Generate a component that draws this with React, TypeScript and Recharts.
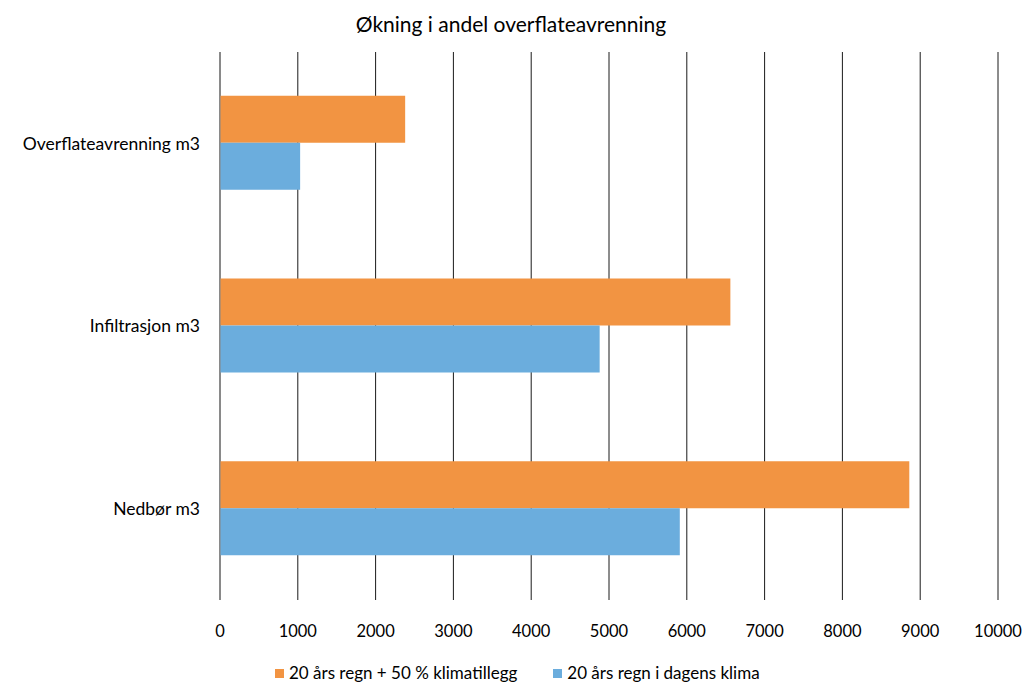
import { BarChart, Bar, XAxis, YAxis, CartesianGrid } from "recharts";

const categories = ["Overflateavrenning m3", "Infiltrasjon m3", "Nedbør m3"];
const klimatillegg = [2380, 6560, 8860];
const dagensKlima = [1030, 4880, 5910];
const xTicks = [0, 1000, 2000, 3000, 4000, 5000, 6000, 7000, 8000, 9000, 10000];

const SERIES = [
  { key: "klimatillegg", name: "20 års regn + 50 % klimatillegg", color: "#F29442" },
  { key: "dagens", name: "20 års regn i dagens klima", color: "#6BADDD" },
];

const data = categories.map((name, i) => ({
  name,
  klimatillegg: klimatillegg[i],
  dagens: dagensKlima[i],
}));

const FONT = "Lato, 'Open Sans', sans-serif";

const App = () => {
  return (
    <div style={{ position: "absolute", left: 0, top: 0, width: 1022, height: 682, background: "#fff" }}>
      <div
        style={{
          position: "absolute",
          top: 10,
          left: 0,
          width: 1022,
          textAlign: "center",
          fontFamily: FONT,
          fontSize: 21,
          lineHeight: "28px",
          color: "#000",
        }}
      >
        Økning i andel overflateavrenning
      </div>
      <BarChart
        width={1022}
        height={682}
        data={data}
        layout="vertical"
        margin={{ top: 52, right: 24, left: 0, bottom: 52 }}
        barCategoryGap="24%"
        barGap={0}
      >
        <CartesianGrid horizontal={false} stroke="#1a1a1a" strokeWidth={1} />
        <XAxis
          type="number"
          domain={[0, 10000]}
          ticks={xTicks}
          interval={0}
          height={30}
          axisLine={false}
          tickLine={false}
          tickSize={0}
          tickMargin={25}
          tick={{ fill: "#000", fontSize: 16.5, fontFamily: FONT }}
        />
        <YAxis
          type="category"
          dataKey="name"
          width={220}
          tickLine={false}
          tickSize={0}
          tickMargin={20}
          axisLine={{ stroke: "#868686", strokeWidth: 1 }}
          tick={{ fill: "#000", fontSize: 17.5, fontFamily: FONT }}
        />
        {SERIES.map((s) => (
          <Bar key={s.key} dataKey={s.key} name={s.name} fill={s.color} isAnimationActive={false} />
        ))}
      </BarChart>
      {/* legend row under the axis */}
      <div
        style={{
          position: "absolute",
          top: 662,
          left: 275,
          display: "flex",
          alignItems: "center",
          fontFamily: FONT,
          fontSize: 17,
          lineHeight: "22px",
          color: "#000",
        }}
      >
        {SERIES.map((s, i) => (
          <div key={s.key} style={{ display: "flex", alignItems: "center", marginRight: i === 0 ? 36 : 0 }}>
            <span style={{ width: 9, height: 9, background: s.color, marginRight: 5, display: "inline-block" }} />
            <span>{s.name}</span>
          </div>
        ))}
      </div>
    </div>
  );
};

export default App;
